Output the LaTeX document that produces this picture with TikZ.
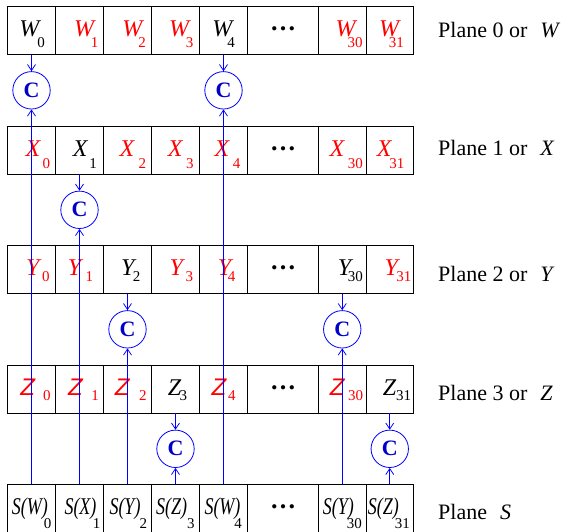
\documentclass[tikz,border=0pt]{standalone}
\usepackage{fontspec}
\setmainfont{Liberation Serif}
\setsansfont{Liberation Sans}
\usetikzlibrary{arrows.meta}
\definecolor{cblue}{RGB}{0,0,255}
\definecolor{ctext}{RGB}{0,0,200}
\definecolor{cred}{RGB}{255,0,0}
\newcommand\bigf{\fontsize{24}{24}\selectfont}
\newcommand\subf{\fontsize{15}{15}\selectfont}
\newcommand\LT[1]{{\bigf\itshape #1}}
\newcommand\LZ{{\bigf\sffamily\itshape Z}}
\newcommand\dotsrow{\raisebox{6pt}{\fontsize{26}{26}\selectfont\bfseries …}}
% width, pad, colour, letter, gap, drop, subscript
\newcommand\cv[7]{\makebox[#1pt][l]{\hspace*{#2pt}\textcolor{#3}{#4\hspace{#5pt}\raisebox{-#6pt}{\subf #7}}}}
% width, pad, letter, gap, subscript
\newcommand\sv[5]{\makebox[#1pt][l]{\hspace*{#2pt}{\bigf\scalebox{0.75}[1]{\itshape S(#3)}}\hspace{#4pt}\raisebox{-14pt}{\subf #5}}}
\begin{document}
\begin{tikzpicture}[x=1pt,y=-1pt,
  cellbox/.style={draw=black, line width=0.8pt, rectangle, inner sep=0pt,
    minimum width=48pt, minimum height=47.7pt, text height=18pt, text depth=6pt},
  narrow/.style={minimum width=47.5pt},
  dotbox/.style={cellbox, minimum width=71pt},
  cnode/.style={draw=cblue, line width=0.8pt, circle, inner sep=0pt, minimum size=37.4pt,
    text=ctext, font=\fontsize{22}{22}\selectfont\bfseries},
  conn/.style={draw=cblue, line width=0.8pt, -{Straight Barb[length=6pt,width=8pt]}},
  planelabel/.style={anchor=base west, inner sep=0pt, font=\fontsize{22}{22}\selectfont}]
\useasboundingbox (0,0) rectangle (565,531);

% Plane W
\node[cellbox] (w0) at (31.5,30.5) {\cv{48}{12}{black}{\LT{W}}{-2}{11}{0}};
\node[cellbox] (w1) at (79.5,30.5) {\cv{48}{18.5}{cred}{\LT{W}}{-3}{11}{1}};
\node[cellbox] (w2) at (127.5,30.5) {\cv{48}{18.8}{cred}{\LT{W}}{-4}{11}{2}};
\node[cellbox] (w3) at (175.5,30.5) {\cv{48}{17.5}{cred}{\LT{W}}{-3}{11}{3}};
\node[cellbox] (w4) at (223.5,30.5) {\cv{48}{12.8}{black}{\LT{W}}{-5}{11}{4}};
\node[dotbox] (wd) at (283,30.5) {\dotsrow};
\node[cellbox,narrow] (w30) at (342.25,30.5) {\cv{47.5}{17.2}{cred}{\LT{W}}{-8}{11}{30}};
\node[cellbox,narrow] (w31) at (389.75,30.5) {\cv{47.5}{13}{cred}{\LT{W}}{-10}{11}{31}};

% Plane X
\node[cellbox] (x0) at (31.5,150.2) {\cv{48}{18}{cred}{\LT{X}}{2.5}{12}{0}};
\node[cellbox] (x1) at (79.5,150.2) {\cv{48}{17.3}{black}{\LT{X}}{2}{12}{1}};
\node[cellbox] (x2) at (127.5,150.2) {\cv{48}{16}{cred}{\LT{X}}{4.5}{12}{2}};
\node[cellbox] (x3) at (175.5,150.2) {\cv{48}{16.3}{cred}{\LT{X}}{3.7}{12}{3}};
\node[cellbox] (x4) at (223.5,150.2) {\cv{48}{15}{cred}{\LT{X}}{3.6}{12}{4}};
\node[dotbox] (xd) at (283,150.2) {\dotsrow};
\node[cellbox,narrow] (x30) at (342.25,150.2) {\cv{47.5}{11}{cred}{\LT{X}}{3.6}{12}{30}};
\node[cellbox,narrow] (x31) at (389.75,150.2) {\cv{47.5}{10.8}{cred}{\LT{X}}{-2}{12}{31}};

% Plane Y
\node[cellbox] (y0) at (31.5,269.7) {\cv{48}{18.7}{cred}{\LT{Y}}{2.7}{5.5}{0}};
\node[cellbox] (y1) at (79.5,269.7) {\cv{48}{12.3}{cred}{\LT{Y}}{4.4}{5.5}{1}};
\node[cellbox] (y2) at (127.5,269.7) {\cv{48}{17.7}{black}{\LT{Y}}{-1.7}{5.5}{2}};
\node[cellbox] (y3) at (175.5,269.7) {\cv{48}{18}{cred}{\LT{Y}}{2.7}{5.5}{3}};
\node[cellbox] (y4) at (223.5,269.7) {\cv{48}{18.3}{cred}{\LT{Y}}{-3.3}{5.5}{4}};
\node[dotbox] (yd) at (283,269.7) {\dotsrow};
\node[cellbox,narrow] (y30) at (342.25,269.7) {\cv{47.5}{19.3}{black}{\LT{Y}}{-3.3}{5.5}{30}};
\node[cellbox,narrow] (y31) at (389.75,269.7) {\cv{47.5}{18.5}{cred}{\LT{Y}}{-1.6}{5.5}{31}};

% Plane Z
\node[cellbox] (z0) at (31.5,389.2) {\cv{48}{13}{cred}{\LZ}{7.9}{5}{0}};
\node[cellbox] (z1) at (79.5,389.2) {\cv{48}{12.6}{cred}{\LZ}{8.7}{5}{1}};
\node[cellbox] (z2) at (127.5,389.2) {\cv{48}{11.3}{cred}{\LZ}{9.6}{5}{2}};
\node[cellbox] (z3) at (175.5,389.2) {\cv{48}{16.3}{black}{\LT{Z}}{-1.6}{5}{3}};
\node[cellbox] (z4) at (223.5,389.2) {\cv{48}{12}{cred}{\LZ}{1.9}{5}{4}};
\node[dotbox] (zd) at (283,389.2) {\dotsrow};
\node[cellbox,narrow] (z30) at (342.25,389.2) {\cv{47.5}{11.3}{cred}{\LZ}{3.6}{5}{30}};
\node[cellbox,narrow] (z31) at (389.75,389.2) {\cv{47.5}{16.8}{black}{\LT{Z}}{0}{5}{31}};

% Plane S
\node[cellbox] (s0) at (31.5,508.7) {\sv{48}{4.3}{W}{-4}{0}};
\node[cellbox] (s1) at (79.5,508.7) {\sv{48}{9}{X}{-3.7}{1}};
\node[cellbox] (s2) at (127.5,508.7) {\sv{48}{6}{Y}{-1}{2}};
\node[cellbox] (s3) at (175.5,508.7) {\sv{48}{4.7}{Z}{0}{3}};
\node[cellbox] (s4) at (223.5,508.7) {\sv{48}{5}{W}{-6}{4}};
\node[dotbox] (sd) at (283,508.7) {\dotsrow};
\node[cellbox,narrow] (s30) at (342.25,508.7) {\sv{47.5}{4.3}{Y}{-7}{30}};
\node[cellbox,narrow] (s31) at (389.75,508.7) {\sv{47.5}{1.8}{Z}{-4}{31}};

% Labels
\node[planelabel] (lw) at (438,37.3) {Plane 0 or\hspace{13pt}\textit{W}};
\node[planelabel] (lx) at (438,155) {Plane 1 or\hspace{13pt}\textit{X}};
\node[planelabel] (ly) at (438,281.7) {Plane 2 or\hspace{13pt}\textit{Y}};
\node[planelabel] (lz) at (438,400) {Plane 3 or\hspace{13pt}\textit{Z}};
\node[planelabel] (ls) at (438,519.3) {Plane\hspace{13pt}\textit{S}};

% Comparators
\node[cnode] (cw0) at (31.5,90.3) {C};
\node[cnode] (cw4) at (223.5,90.3) {C};
\node[cnode] (cx1) at (79.5,209.8) {C};
\node[cnode] (cy2) at (127.5,329.3) {C};
\node[cnode] (cy30) at (342.25,329.3) {C};
\node[cnode] (cz3) at (175.5,448.8) {C};
\node[cnode] (cz31) at (389.75,448.8) {C};

% Connectors
\draw[conn] (w0.south) -- (cw0.north);
\draw[conn] (s0.north) -- (cw0.south);
\draw[conn] (w4.south) -- (cw4.north);
\draw[conn] (s4.north) -- (cw4.south);
\draw[conn] (x1.south) -- (cx1.north);
\draw[conn] (s1.north) -- (cx1.south);
\draw[conn] (y2.south) -- (cy2.north);
\draw[conn] (s2.north) -- (cy2.south);
\draw[conn] (y30.south) -- (cy30.north);
\draw[conn] (s30.north) -- (cy30.south);
\draw[conn] (z3.south) -- (cz3.north);
\draw[conn] (s3.north) -- (cz3.south);
\draw[conn] (z31.south) -- (cz31.north);
\draw[conn] (s31.north) -- (cz31.south);
\end{tikzpicture}
\end{document}
